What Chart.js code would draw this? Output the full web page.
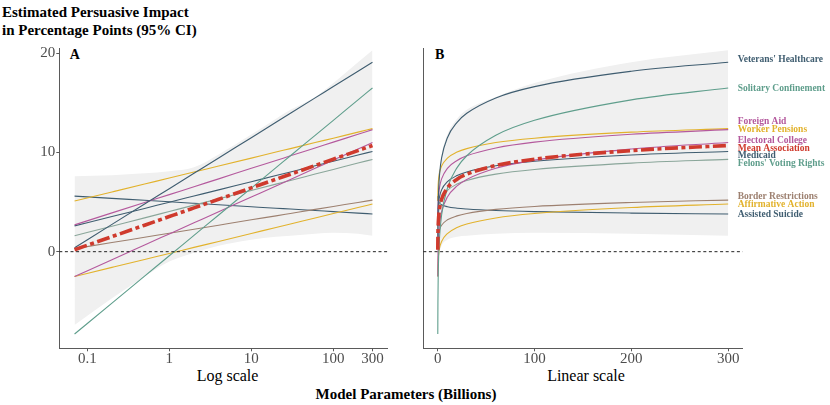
<!DOCTYPE html>
<html><head><meta charset="utf-8">
<script src="https://cdn.jsdelivr.net/npm/chart.js@4"></script>
<style>
body{margin:0;background:#fff;width:830px;height:405px;overflow:hidden;position:relative;font-family:"Liberation Serif",serif}
canvas{position:absolute;top:0}
.t{position:absolute;color:#000;white-space:nowrap}
.c{text-align:center;width:300px}
</style></head><body>
<div class="t" style="left:2px;top:2.6px;font-size:15px;line-height:18px;font-weight:bold">Estimated Persuasive Impact<br>in Percentage Points (95% CI)</div>
<div class="t" style="left:69.7px;top:48.3px;font-size:14px;line-height:14px;font-weight:bold">A</div>
<div class="t" style="left:435px;top:48.3px;font-size:14px;line-height:14px;font-weight:bold">B</div>
<div class="t c" style="left:77.5px;top:367.6px;font-size:16px;line-height:16px">Log scale</div>
<div class="t c" style="left:436px;top:367.6px;font-size:16px;line-height:16px">Linear scale</div>
<div class="t c" style="left:256px;top:387.4px;font-size:15px;line-height:15px;font-weight:bold">Model Parameters (Billions)</div>
<canvas id="cA" width="400" height="405" style="left:0;width:400px;height:405px"></canvas>
<canvas id="cB" width="430" height="405" style="left:400px;width:430px;height:405px"></canvas>
<script>
// ---------- DATA ----------
const paramsBillions = [0.07, 0.2, 0.5, 1, 2, 4, 10, 20, 30, 60, 100, 200, 300];
const veteransHealthcare  = [0.40, 2.75, 4.80, 6.35, 7.90, 9.45, 11.49, 13.04, 13.95, 15.50, 16.64, 18.19, 19.10];
const solitaryConfinement = [-8.30, -5.19, -2.47, -0.41, 1.64, 3.70, 6.41, 8.47, 9.67, 11.73, 13.24, 15.30, 16.50];
const foreignAid          = [2.70, 3.91, 4.96, 5.75, 6.55, 7.34, 8.40, 9.19, 9.66, 10.45, 11.04, 11.83, 12.30];
const workerPensions      = [5.10, 6.02, 6.82, 7.42, 8.03, 8.63, 9.43, 10.04, 10.39, 11.00, 11.44, 12.05, 12.40];
const electoralCollege    = [-2.50, -0.81, 0.67, 1.79, 2.91, 4.03, 5.51, 6.63, 7.28, 8.40, 9.23, 10.35, 11.00];
const meanAssociation     = [0.20, 1.52, 2.67, 3.54, 4.41, 5.28, 6.43, 7.30, 7.81, 8.68, 9.32, 10.19, 10.70];
const medicaid            = [2.60, 3.54, 4.36, 4.99, 5.61, 6.23, 7.05, 7.67, 8.04, 8.66, 9.11, 9.74, 10.10];
const felonsVotingRights  = [1.60, 2.57, 3.41, 4.05, 4.69, 5.32, 6.17, 6.81, 7.18, 7.82, 8.29, 8.93, 9.30];
const borderRestrictions  = [0.30, 0.92, 1.45, 1.86, 2.26, 2.67, 3.21, 3.61, 3.85, 4.26, 4.56, 4.96, 5.20];
const affirmativeAction   = [-2.50, -1.58, -0.78, -0.18, 0.43, 1.03, 1.83, 2.44, 2.79, 3.40, 3.84, 4.45, 4.80];
const assistedSuicide     = [5.60, 5.37, 5.18, 5.03, 4.88, 4.73, 4.53, 4.38, 4.30, 4.15, 4.04, 3.89, 3.80];
const ciUpper = [7.6, 7.7, 7.9, 8.1, 8.5, 9.8, 11.8, 13.4, 14.3, 15.6, 17.0, 19.1, 20.3];
const ciLower = [-7.4, -4.7, -2.5, -1.0, -0.1, 0.6, 1.2, 1.5, 1.6, 1.8, 1.9, 1.8, 1.6];

const issueNames = ["Veterans' Healthcare", "Solitary Confinement", "Foreign Aid", "Worker Pensions",
  "Electoral College", "Mean Association", "Medicaid", "Felons' Voting Rights",
  "Border Restrictions", "Affirmative Action", "Assisted Suicide"];
const issueValues = [veteransHealthcare, solitaryConfinement, foreignAid, workerPensions,
  electoralCollege, meanAssociation, medicaid, felonsVotingRights,
  borderRestrictions, affirmativeAction, assistedSuicide];

const logTicks = [0.1, 1, 10, 100, 300];
const logTickLabels = ["0.1", "1", "10", "100", "300"];
const linTicks = [0, 100, 200, 300];
const linTickLabels = ["0", "100", "200", "300"];
const yTicks = [0, 10, 20];
const yTickLabels = ["0", "10", "20"];

// ---------- STYLE / LAYOUT ----------
const SLATE = '#3f5d70', TEAL = '#5f9e8c', MAG = '#b4599d', GOLD = '#e2b22c', RED = '#cf3a2d', BROWN = '#9d8070';
const lineColors  = [SLATE, TEAL, MAG, GOLD, MAG, RED, SLATE, '#8aa69a', BROWN, GOLD, SLATE];
const labelColors = [SLATE, TEAL, MAG, GOLD, MAG, RED, SLATE, TEAL, BROWN, GOLD, SLATE];
const labelPixelY = [60, 88.7, 121.3, 129.3, 140.7, 148.3, 155.7, 164, 196.3, 204.3, 214.7];
const labelPixelX = 337.7; // within panel B canvas
const FONT = '"Liberation Serif", serif';
const AXIS = '#5a5a5a';
const TICKTXT = '#4d4d4d';

function pts(arr){ return paramsBillions.map((x, i) => ({x: x, y: arr[i]})); }

function makeDatasets(){
  const ds = [];
  issueValues.forEach((arr, k) => {
    const isMean = issueNames[k] === 'Mean Association';
    ds.push({
      label: issueNames[k], data: pts(arr), borderColor: lineColors[k],
      borderWidth: isMean ? 3.6 : 1.1, borderDash: isMean ? [13, 3.5, 4, 3.5] : [],
      borderCapStyle: 'butt', pointRadius: 0, fill: false,
      cubicInterpolationMode: 'monotone', order: isMean ? 0 : 1
    });
  });
  ds.push({label: 'ci lower', data: pts(ciLower), borderWidth: 0, borderColor: 'rgba(0,0,0,0)',
    pointRadius: 0, fill: false, cubicInterpolationMode: 'monotone', order: 5});
  ds.push({label: 'ci upper', data: pts(ciUpper), borderWidth: 0, borderColor: 'rgba(0,0,0,0)',
    backgroundColor: '#f0f0f0', pointRadius: 0, fill: '-1', cubicInterpolationMode: 'monotone', order: 5});
  return ds;
}

const zeroLine = {
  id: 'zeroLine',
  afterDatasetsDraw(chart){
    const {ctx, chartArea: a} = chart;
    const py = chart.scales.y.getPixelForValue(0);
    ctx.save();
    ctx.setLineDash([3, 2.6]);
    ctx.strokeStyle = '#222'; ctx.lineWidth = 1;
    ctx.beginPath(); ctx.moveTo(a.left, py); ctx.lineTo(a.right, py); ctx.stroke();
    ctx.restore();
  }
};

const issueLabels = {
  id: 'issueLabels',
  afterDraw(chart){
    const ctx = chart.ctx;
    ctx.save();
    ctx.font = 'bold 9.5px ' + FONT;
    ctx.textBaseline = 'middle'; ctx.textAlign = 'left';
    issueNames.forEach((n, k) => { ctx.fillStyle = labelColors[k]; ctx.fillText(n, labelPixelX, labelPixelY[k]); });
    ctx.restore();
  }
};

function yScale(showTicks){
  return {
    type: 'linear', min: -9.74, max: 20.53,
    afterBuildTicks: s => { s.ticks = yTicks.map(v => ({value: v})); },
    ticks: {display: showTicks, callback: (v, i) => yTickLabels[i], color: TICKTXT,
      font: {family: FONT, size: 15}, padding: 1},
    grid: {display: showTicks, drawOnChartArea: false, tickLength: 3, color: AXIS},
    border: {display: true, color: AXIS, width: 1},
    afterFit: s => { s.width = showTicks ? 59.3 : 23.3; }
  };
}

const common = {responsive: false, animation: false, devicePixelRatio: 1,
  plugins: {legend: {display: false}, tooltip: {enabled: false}}};

new Chart(document.getElementById('cA'), {
  type: 'line',
  data: {datasets: makeDatasets()},
  options: Object.assign({}, common, {
    layout: {padding: {top: 48, right: 12.7, left: 0, bottom: 0}},
    scales: {
      x: {type: 'logarithmic', min: 0.0456, max: 455,
        afterBuildTicks: s => { s.ticks = logTicks.map(v => ({value: v})); },
        ticks: {callback: (v, i) => logTickLabels[i], color: TICKTXT, font: {family: FONT, size: 15, lineHeight: 1},
          padding: 0, maxRotation: 0, autoSkip: false},
        grid: {drawOnChartArea: false, tickLength: 3, color: AXIS},
        border: {display: true, color: AXIS, width: 1},
        afterFit: s => { s.height = 56.7; }
      },
      y: yScale(true)
    }
  }),
  plugins: [zeroLine]
});

new Chart(document.getElementById('cB'), {
  type: 'line',
  data: {datasets: makeDatasets()},
  options: Object.assign({}, common, {
    layout: {padding: {top: 48, right: 87.3, left: 0, bottom: 0}},
    scales: {
      x: {type: 'linear', min: -14.9, max: 315,
        afterBuildTicks: s => { s.ticks = linTicks.map(v => ({value: v})); },
        ticks: {callback: (v, i) => linTickLabels[i], color: TICKTXT, font: {family: FONT, size: 15, lineHeight: 1},
          padding: 0, maxRotation: 0, autoSkip: false},
        grid: {drawOnChartArea: false, tickLength: 3, color: AXIS},
        border: {display: true, color: AXIS, width: 1},
        afterFit: s => { s.height = 56.7; }
      },
      y: yScale(false)
    }
  }),
  plugins: [zeroLine, issueLabels]
});
</script>
</body></html>
